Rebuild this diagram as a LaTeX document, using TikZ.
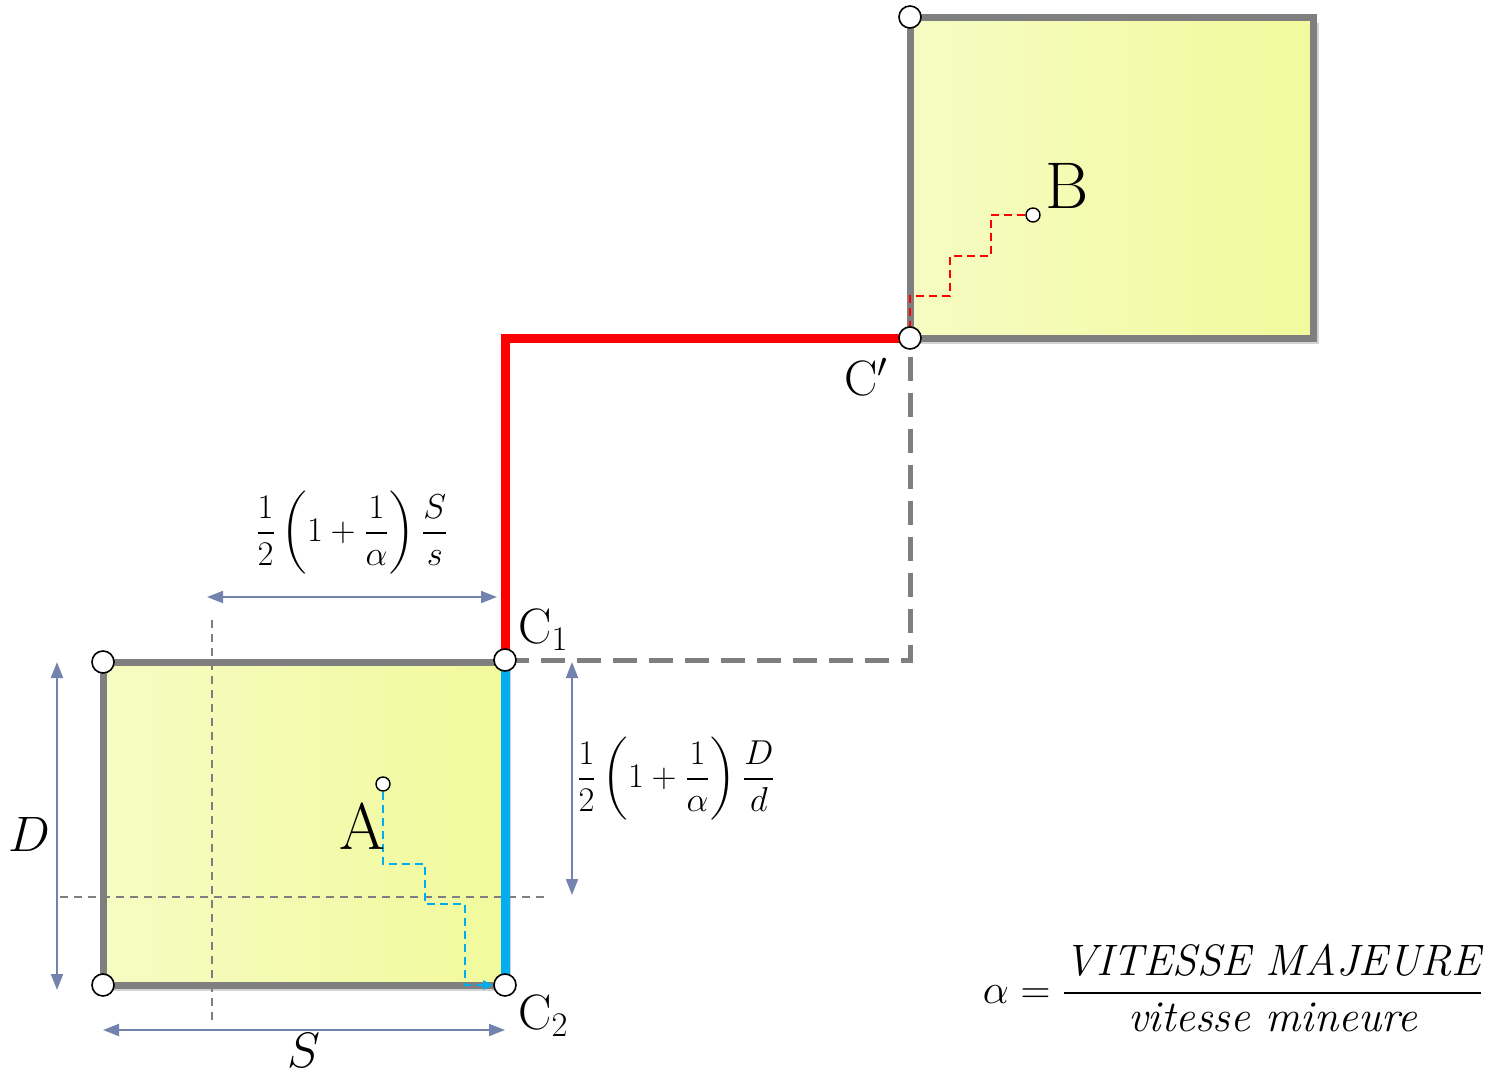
\documentclass[tikz,border=0pt]{standalone}
\usepackage{amsmath}
\definecolor{rouge}{HTML}{FF0000}
\definecolor{bleu}{HTML}{00AEEF}
\definecolor{gris}{HTML}{7F7F7F}
\definecolor{cotec}{HTML}{7383AD}
\definecolor{jauneA}{HTML}{F6FBC2}
\definecolor{jauneB}{HTML}{F2FA9C}
\usetikzlibrary{calc, positioning, arrows.meta, shadows, backgrounds}

\begin{document}
\begin{tikzpicture}[x=0.5pt, y=-0.5pt,
  zone/.style={draw=gris, line width=3.5pt, left color=jauneA, right color=jauneB,
               drop shadow={opacity=0.35, shadow xshift=3pt, shadow yshift=-3pt}},
  coin/.style={circle, draw=black, fill=white, line width=0.8pt, inner sep=0pt, minimum size=11pt},
  pt/.style={circle, draw=black, fill=white, line width=0.7pt, inner sep=0pt, minimum size=7pt},
  cote/.style={{Triangle[length=8pt,width=6pt]}-{Triangle[length=8pt,width=6pt]}, line width=1pt, cotec},
  guide/.style={gris, line width=0.7pt, dash pattern=on 4pt off 3pt},
  trajet/.style={line width=1pt, dash pattern=on 4pt off 2.5pt},
  route/.style={line width=4.5pt},
  lbl/.style={font=\fontsize{33}{36}\selectfont, inner sep=0pt},
  lblc/.style={font=\fontsize{25}{28}\selectfont, inner sep=0pt},
  frm/.style={font=\fontsize{17}{20}\selectfont, inner sep=0pt},
]
\useasboundingbox (0,0) rectangle (1490,1076);

% Corners and points
\node[coin] (hgA) at (103,662) {};
\node[coin] (bgA) at (103,985) {};
\node[coin] (c1) at (505,660) {};
\node[coin] (c2) at (505,985) {};
\node[coin] (hgB) at (910,17) {};
\node[coin] (cp) at (910,338) {};
\node[pt] (pA) at (383,784) {};
\node[pt] (pB) at (1033,215) {};
\coordinate (bdB) at (1313,338);

\begin{scope}[on background layer]
% Zones
\draw[zone] (hgA.center) rectangle (c2.center);
\draw[zone] (hgB.center) rectangle (bdB);

% Guides
\coordinate (gv1) at (212,620); \coordinate (gv2) at (212,1025);
\coordinate (gh1) at (60,897);  \coordinate (gh2) at (545,897);
\draw[guide] (gv1) -- (gv2);
\draw[guide] (gh1) -- (gh2);

% Routes
\draw[gris, line width=2.5pt, dash pattern=on 12pt off 6pt] (c1.center) -| (cp.center);
\draw[route, rouge] (c1.center) |- (cp.center);
\draw[route, bleu] (c1.center) -- (c2.center);

% Local paths
\draw[trajet, bleu, -{Triangle[length=5pt,width=4.5pt]}] (pA) |- ++(42,80) |- ++(40,40) |- (c2);
\draw[trajet, rouge] (pB) -| ++(-42,41) -| ++(-41,40) -| (cp.center);
\end{scope}

% Dimensions
\coordinate (hG) at (207,597); \coordinate (hD) at (497,597);
\coordinate (vH) at (572,662); \coordinate (vB) at (572,895);
\coordinate (dH) at (57,662);  \coordinate (dB) at (57,990);
\coordinate (sG) at (103,1030); \coordinate (sD) at (505,1030);
\draw[cote] (hG) -- (hD);
\draw[cote] (vH) -- (vB);
\draw[cote] (dH) -- (dB);
\draw[cote] (sG) -- (sD);

% Labels
\node[frm] (fS) at (352,533) {$\displaystyle\frac{1}{2}\left(1+\frac{1}{\alpha}\right)\frac{S}{s}$};
\node[frm] (fD) at (676,779) {$\displaystyle\frac{1}{2}\left(1+\frac{1}{\alpha}\right)\frac{D}{d}$};
\node[lblc] (lD) at (29,834) {$D$};
\node[lblc] (lS) at (304,1050) {$S$};
\node[lbl] (lA) at (362,826) {A};
\node[lbl] (lB) at (1067,186) {B};
\node[lblc, anchor=west] (lc1) at (518,630) {$\mathrm{C}_1$};
\node[lblc, anchor=west] (lc2) at (518,1016) {$\mathrm{C}_2$};
\node[lblc] (lcp) at (866,377) {$\mathrm{C}'$};
\node[font=\fontsize{22}{26}\selectfont, inner sep=0pt] (alpha) at (1233,988)
  {$\alpha = \dfrac{\text{\itshape VITESSE MAJEURE}}{\text{\itshape vitesse mineure}}$};

\end{tikzpicture}
\end{document}
